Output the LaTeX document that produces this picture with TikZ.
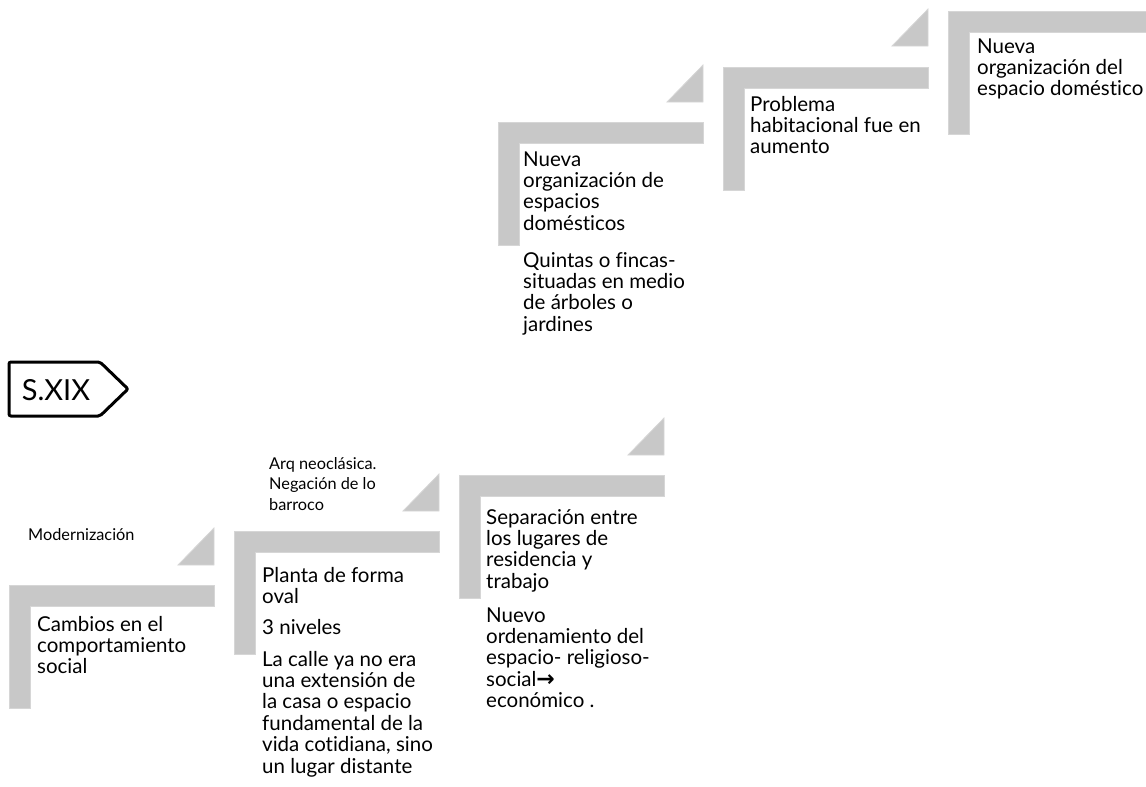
\documentclass[tikz,border=0pt]{standalone}
\usepackage{fontspec}
\setmainfont{Lato}[Ligatures={NoCommon}]
\newfontfamily\arrowfont{DejaVu Sans}
\definecolor{stepgray}{RGB}{200,200,200}
\definecolor{stepedge}{RGB}{214,214,214}
\newcommand{\txtlines}[1]{\begin{tabular}[t]{@{}l@{}}#1\end{tabular}}
\tikzset{
  stepshape/.pic={
    \path[stepfill] (0,0) -- (205,0) -- (205,21) -- (21,21) -- (21,123) -- (0,123) -- cycle;
  },
  steptri/.pic={
    \path[stepfill] (0,0) -- (36,0) -- (36,-37) -- cycle;
  },
  stepfill/.style={fill=stepgray, draw=stepedge, line width=0.8pt},
  maintxt/.style={inner sep=0pt, anchor=base west, font=\fontsize{20.5}{21.3}\selectfont},
  smalltxt/.style={inner sep=0pt, anchor=base west, font=\fontsize{16.3}{20.5}\selectfont},
  tagbox/.style={draw=black, line width=3pt, rounded corners=2pt, fill=white},
}
\begin{document}
\begin{tikzpicture}[x=1pt,y=-1pt]
\useasboundingbox (0,0) rectangle (1146,787);
\clip (0,0) rectangle (1146,787);

% step shapes
\pic at (9,585) {stepshape};
\pic at (178,565) {steptri};
\pic at (234,531) {stepshape};
\pic at (403,511) {steptri};
\pic at (459,475) {stepshape};
\pic at (628,455) {steptri};
\pic at (498,122) {stepshape};
\pic at (667,102) {steptri};
\pic at (723,67) {stepshape};
\pic at (892,46) {steptri};
\pic at (948,11) {stepshape};

% S.XIX tag
\draw[tagbox] (9,362) -- (100,362) -- (128,389) -- (100,416) -- (9,416) -- cycle;
\node[inner sep=0pt, font=\fontsize{29}{32}\selectfont] (tag) at (56,390) {S.XIX};

% step 1
\node[smalltxt] (mod) at (28,540) {Modernización};
\node[maintxt] (s1) at (37,631) {\txtlines{Cambios en el\\comportamiento\\social}};

% step 2
\node[smalltxt] (arq) at (269,469) {\txtlines{Arq neoclásica.\\Negación de lo\\barroco}};
\node[maintxt] (s2a) at (262,582) {\txtlines{Planta de forma\\oval}};
\node[maintxt] (s2b) at (262,634) {3 niveles};
\node[maintxt] (s2c) at (262,666) {\txtlines{La calle ya no era\\una extensión de\\la casa o espacio\\fundamental de la\\vida cotidiana, sino\\un lugar distante}};

% step 3
\node[maintxt] (s3a) at (486,524) {\txtlines{Separación entre\\los lugares de\\residencia y\\trabajo}};
\node[maintxt] (s3b) at (486,622) {\txtlines{Nuevo\\ordenamiento del\\espacio- religioso-\\social{\arrowfont\bfseries\fontsize{22}{22}\selectfont →}\\económico .}};

% step 4
\node[maintxt] (s4a) at (523,166) {\txtlines{Nueva\\organización de\\espacios\\domésticos}};
\node[maintxt] (s4b) at (523,267) {\txtlines{Quintas o fincas-\\situadas en medio\\de árboles o\\jardines}};

% step 5
\node[maintxt] (s5) at (750,111) {\txtlines{Problema\\habitacional fue en\\aumento}};

% step 6
\node[maintxt] (s6) at (977,53) {\txtlines{Nueva\\organización del\\espacio doméstico}};
\end{tikzpicture}
\end{document}
